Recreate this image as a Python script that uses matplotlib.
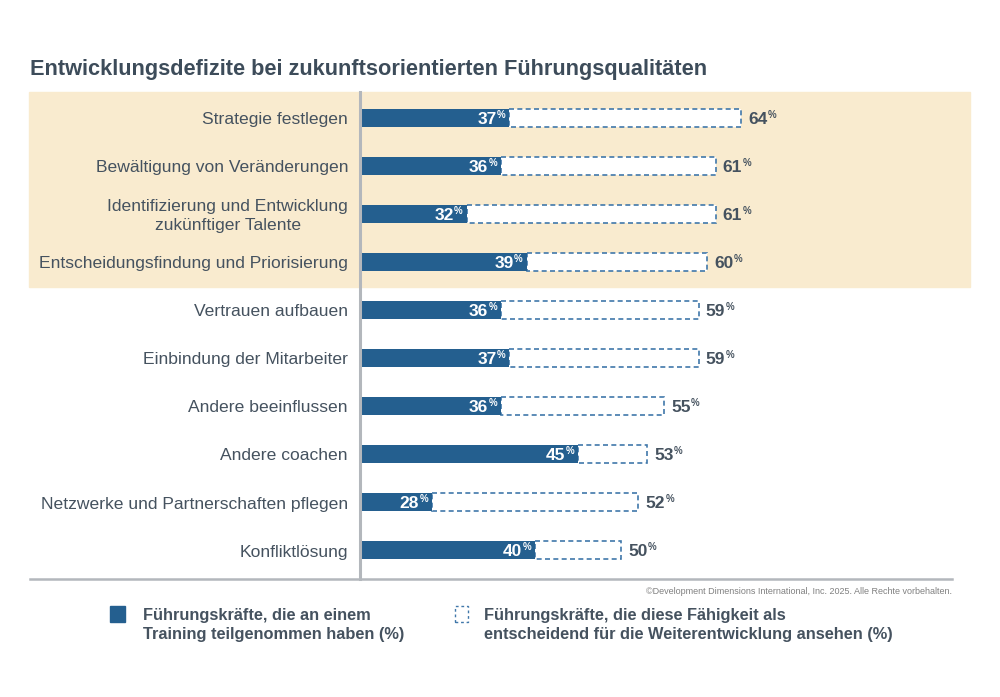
import matplotlib.pyplot as plt
from matplotlib.patches import Rectangle
from matplotlib.lines import Line2D

plt.rcParams['font.family'] = ['Liberation Sans', 'DejaVu Sans']

categories = ['Strategie festlegen', 'Bewältigung von Veränderungen',
              'Identifizierung und Entwicklung\nzukünftiger Talente',
              'Entscheidungsfindung und Priorisierung', 'Vertrauen aufbauen',
              'Einbindung der Mitarbeiter', 'Andere beeinflussen', 'Andere coachen',
              'Netzwerke und Partnerschaften pflegen', 'Konfliktlösung']
trained = [37, 36, 32, 39, 36, 37, 36, 45, 28, 40]
critical = [64, 61, 61, 60, 59, 59, 55, 53, 52, 50]

DARK = '#245f8f'
DASH = '#4178aa'
TXT = '#45525f'
BEIGE = '#f9ebcf'

W, H = 1000, 697
fig = plt.figure(figsize=(10, 6.97), dpi=100)

def fx(px):
    return px / W

def fy(py):
    return 1 - py / H

# beige highlight band for the first four rows
fig.patches.append(Rectangle((fx(29), fy(287)), fx(970 - 29), (287 - 92) / H,
                             transform=fig.transFigure, color=BEIGE, zorder=-5))

ax = fig.add_axes([fx(360), fy(574), fx(970 - 360), 480 / H])
ax.patch.set_alpha(0)
y = list(range(len(categories)))
ax.barh(y, trained, height=0.375, color=DARK, zorder=3)
ax.barh(y, [c - t for c, t in zip(critical, trained)], left=trained, height=0.375,
        facecolor='white', edgecolor=DASH, linewidth=1.2, linestyle=(0, (3, 2)), zorder=2)
ax.set_xlim(19.6, 90.6)
ax.set_ylim(len(categories) - 0.5, -0.5)
ax.axis('off')

fig.canvas.draw()
r = fig.canvas.get_renderer()
for i in y:
    ax.annotate(str(trained[i]), (trained[i], i), xytext=(-13, -2), textcoords='offset pixels',
                ha='right', va='center', color='white', fontsize=12.5, fontweight='bold', zorder=5)
    ax.annotate('%', (trained[i], i), xytext=(-12.5, 2.5), textcoords='offset pixels',
                ha='left', va='center', color='white', fontsize=7, fontweight='bold', zorder=5)
    t = ax.annotate(str(critical[i]), (critical[i], i), xytext=(7, -2), textcoords='offset pixels',
                    ha='left', va='center', color=TXT, fontsize=12.5, fontweight='bold')
    bb = t.get_window_extent(r)
    x0 = ax.transData.transform((critical[i], i))[0]
    ax.annotate('%', (critical[i], i), xytext=(bb.x1 - x0 + 0.5, 2.5), textcoords='offset pixels',
                ha='left', va='center', color=TXT, fontsize=7, fontweight='bold')
    ax.annotate(categories[i], (19.6, i), xytext=(-12, -2), textcoords='offset pixels',
                ha='right', va='center', multialignment='center', color=TXT,
                fontsize=12.6, linespacing=1.35, annotation_clip=False)

# axis lines
fig.lines.append(Line2D([fx(360), fx(360)], [fy(92), fy(579)], transform=fig.transFigure,
                        color='#b3b7bc', linewidth=2.2))
fig.lines.append(Line2D([fx(30), fx(952)], [fy(579), fy(579)], transform=fig.transFigure,
                        color='#b3b7bc', linewidth=1.8))

fig.text(fx(30), fy(69), 'Entwicklungsdefizite bei zukunftsorientierten Führungsqualitäten',
         ha='left', va='center', fontsize=15.7, fontweight='bold', color='#3d4c5a')
fig.text(fx(952), fy(592), '©Development Dimensions International, Inc. 2025. Alle Rechte vorbehalten.',
         ha='right', va='center', fontsize=6.5, color='#808080')

# legend
fig.patches.append(Rectangle((fx(110), fy(622)), fx(15), 16 / H, transform=fig.transFigure,
                             color=DARK))
fig.patches.append(Rectangle((fx(455), fy(622)), fx(13), 16 / H, transform=fig.transFigure,
                             facecolor='white', edgecolor=DASH, linewidth=1.0,
                             linestyle=(0, (2, 2))))
fig.text(fx(143), fy(625), 'Führungskräfte, die an einem\nTraining teilgenommen haben (%)',
         ha='left', va='center', fontsize=11.8, fontweight='bold', color=TXT, linespacing=1.4)
fig.text(fx(484), fy(625), 'Führungskräfte, die diese Fähigkeit als\nentscheidend für die Weiterentwicklung ansehen (%)',
         ha='left', va='center', fontsize=11.8, fontweight='bold', color=TXT, linespacing=1.4)

fig.savefig('out.png', dpi=100)
